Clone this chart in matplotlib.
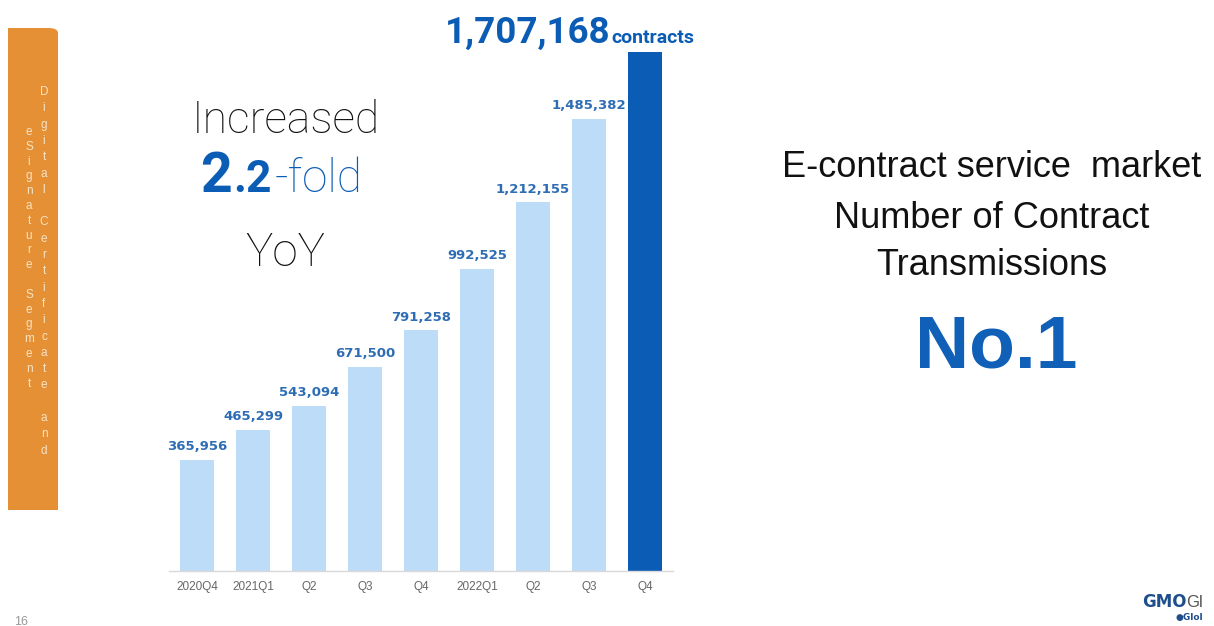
"""E-contract transmissions chart (slide recreation)"""

import matplotlib
matplotlib.use("Agg")
import matplotlib.pyplot as plt
from matplotlib.patches import FancyBboxPatch

# data
quarters = ["2020Q4", "2021Q1", "Q2", "Q3", "Q4", "2022Q1", "Q2", "Q3", "Q4"]
contracts = [365956, 465299, 543094, 671500, 791258, 992525, 1212155, 1485382, 1707168]
side_col1 = "Digital Certificate and"
side_col2 = "eSignature Segment"

W, H = 1214, 626
LIGHT = "#BDDCF8"
DARK = "#0B5CB5"
LABEL = "#2E6DB4"


def fx(x):
    return x / W


def fy(y):
    return 1 - y / H


fig = plt.figure(figsize=(W / 100, H / 100), dpi=100)
fig.patch.set_facecolor("white")
renderer = fig.canvas.get_renderer()


def chain(x_px, y_px, parts, gap=0):
    """Draw text pieces one after another on a common baseline"""
    x = x_px
    for s, kw in parts:
        t = fig.text(fx(x), fy(y_px), s, ha="left", va="baseline", **kw)
        x += t.get_window_extent(renderer).width + gap
    return x


# bar chart axes: baseline at y=571, top of last bar at y=52
ax = fig.add_axes([fx(169), fy(571), fx(504), (571 - 52) / H])
colors = [LIGHT] * (len(contracts) - 1) + [DARK]
x = list(range(len(contracts)))
ax.bar(x, contracts, width=0.61, color=colors, zorder=2)
ax.set_xlim(-0.5, len(contracts) - 0.5)
ax.set_ylim(0, max(contracts))
ax.set_xticks(x)
ax.set_xticklabels(quarters, fontsize=8.5, color="#666666", family="Liberation Sans")
ax.tick_params(axis="x", length=0, pad=7)
ax.set_yticks([])
for s in ["top", "left", "right"]:
    ax.spines[s].set_visible(False)
ax.spines["bottom"].set_color("#D9D9D9")
ax.spines["bottom"].set_linewidth(1)
ax.set_facecolor("none")

for i, v in enumerate(contracts[:-1]):
    ax.annotate(f"{v:,}", (i, v), xytext=(0, 5), textcoords="offset points",
                ha="center", va="bottom", fontsize=9.5, fontweight="bold",
                color=LABEL, family="DejaVu Sans", clip_on=False)

# headline number of last bar
chain(445, 43, [(f"{contracts[-1]:,}", dict(fontsize=26.5, fontweight="bold",
                                             color=DARK, family="Roboto")),
                ("contracts", dict(fontsize=14, fontweight="bold",
                                   color=DARK, family="Roboto"))], gap=1)

# left annotation (thin face)
fig.text(fx(286), fy(133), "Increased", fontsize=32, fontweight="light", color="#111111",
         family="Roboto", ha="center", va="baseline")
chain(200, 192, [("2", dict(fontsize=40, fontweight="bold", color=DARK, family="Roboto")),
                 (".2", dict(fontsize=32, fontweight="bold", color=DARK, family="Roboto")),
                 ("-fold", dict(fontsize=33, fontweight="light", color=DARK,
                                family="Roboto"))], gap=2)
fig.text(fx(285), fy(266), "YoY", fontsize=33, fontweight="light", color="#111111",
         family="Roboto", ha="center", va="baseline")

# right annotation
for txt, yb in [("E-contract service  market", 177), ("Number of Contract", 228),
                ("Transmissions", 275)]:
    fig.text(fx(992), fy(yb), txt, fontsize=26, color="#111111",
             family="Liberation Sans", ha="center", va="baseline")
fig.text(fx(996), fy(368), "No.1", fontsize=54, fontweight="bold", color="#1060B8",
         family="Liberation Sans", ha="center", va="baseline")

# orange side panel, rounded only on the top-right corner
ORANGE = "#E69035"
fig.patches.append(FancyBboxPatch((fx(8), fy(510)), fx(50), (510 - 28) / H,
                                  boxstyle="round,pad=0,rounding_size=0.008",
                                  transform=fig.transFigure, facecolor=ORANGE,
                                  edgecolor="none", zorder=0))
fig.patches.append(plt.Rectangle((fx(8), fy(510)), fx(25), (510 - 28) / H,
                                 transform=fig.transFigure, facecolor=ORANGE,
                                 edgecolor="none", zorder=0))
fig.patches.append(plt.Rectangle((fx(8), fy(510)), fx(50), (510 - 60) / H,
                                 transform=fig.transFigure, facecolor=ORANGE,
                                 edgecolor="none", zorder=0))

for col, xc, y0, step in [(side_col1, 44, 92, 16.3), (side_col2, 29, 132, 14.8)]:
    for k, ch in enumerate(col):
        fig.text(fx(xc), fy(y0 + k * step), ch, fontsize=8.5, color="#F6E3C4",
                 family="Liberation Sans", ha="center", va="center")

# footer
fig.text(fx(14), fy(625), "16", fontsize=9, color="#999999", family="Liberation Sans",
         ha="left", va="baseline")
chain(1142, 607, [("GMO", dict(fontsize=12, fontweight="bold", color="#1F4E8C",
                                family="DejaVu Sans")),
                  ("Gl", dict(fontsize=12, color="#555555", family="Liberation Sans"))])
fig.text(fx(1176), fy(620), "\u25cfGlol", fontsize=6.5, fontweight="bold", color="#1F4E8C",
         family="DejaVu Sans", ha="left", va="baseline")

fig.savefig("out.png", dpi=100, facecolor="white")
